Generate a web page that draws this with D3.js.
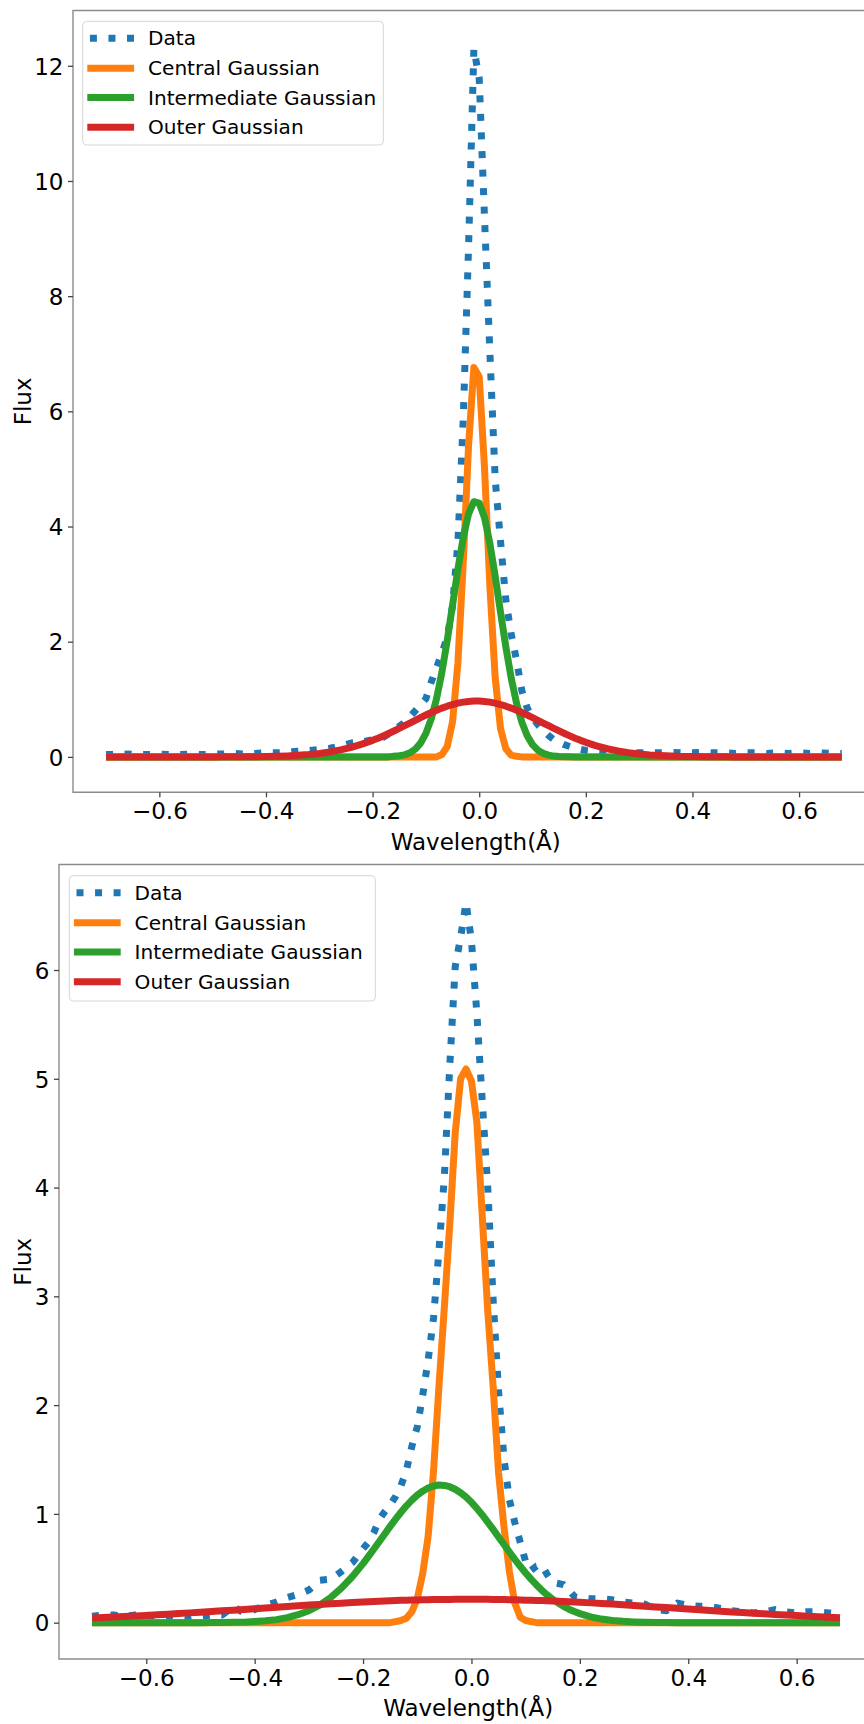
<!DOCTYPE html>
<html>
<head>
<meta charset="utf-8">
<script src="https://cdn.jsdelivr.net/npm/d3@7"></script>
<style>
  html, body { margin: 0; padding: 0; background: #ffffff; overflow: hidden; }
  svg { display: block; }
</style>
</head>
<body>
<svg id="chart" width="864" height="1724"></svg>
<script>
// Wavelength grid (Å), shared by both panels: 0.02 steps in the wings, 0.01 steps in the core.
const wavelength = [
  -0.70, -0.68, -0.66, -0.64, -0.62, -0.60, -0.58, -0.56, -0.54, -0.52, -0.50, -0.48, -0.46,
  -0.44, -0.42, -0.40, -0.38, -0.36, -0.34, -0.32, -0.30, -0.28, -0.26, -0.24, -0.22,
  -0.20, -0.19, -0.18, -0.17, -0.16, -0.15, -0.14, -0.13, -0.12, -0.11, -0.10, -0.09, -0.08, -0.07,
  -0.06, -0.05, -0.04, -0.03, -0.02, -0.01, 0.00, 0.01, 0.02, 0.03, 0.04, 0.05, 0.06, 0.07,
  0.08, 0.09, 0.10, 0.11, 0.12, 0.13, 0.14, 0.15, 0.16, 0.17, 0.18, 0.19, 0.20,
  0.22, 0.24, 0.26, 0.28, 0.30, 0.32, 0.34, 0.36, 0.38, 0.40, 0.42, 0.44, 0.46, 0.48, 0.50,
  0.52, 0.54, 0.56, 0.58, 0.60, 0.62, 0.64, 0.66, 0.68
];

// Upper panel
const topData = [
  0.04, 0.04, 0.05, 0.04, 0.04, 0.05, 0.04, 0.04, 0.05, 0.04, 0.05, 0.05, 0.06,
  0.05, 0.06, 0.07, 0.07, 0.08, 0.10, 0.11, 0.13, 0.15, 0.19, 0.24, 0.26,
  0.30, 0.32, 0.34, 0.40, 0.46, 0.53, 0.60, 0.70, 0.80, 0.90, 1.01, 1.30, 1.55, 1.80,
  2.08, 2.62, 3.72, 5.85, 8.85, 12.30, 11.78, 9.35, 7.03, 4.82, 3.74, 2.72, 2.13, 1.68,
  1.15, 0.85, 0.68, 0.56, 0.46, 0.37, 0.30, 0.25, 0.21, 0.18, 0.15, 0.13, 0.11,
  0.09, 0.08, 0.08, 0.07, 0.07, 0.07, 0.07, 0.08, 0.07, 0.07, 0.08, 0.07, 0.07, 0.06, 0.07,
  0.07, 0.06, 0.07, 0.06, 0.07, 0.06, 0.07, 0.06, 0.06
];
const topCentral = [
  0, 0, 0, 0, 0, 0, 0, 0, 0, 0, 0, 0, 0,
  0, 0, 0, 0, 0, 0, 0, 0, 0, 0, 0, 0,
  0, 0, 0, 0, 0, 0, 0, 0, 0, 0, 0, 0, 0, 0.04,
  0.18, 0.61, 1.63, 3.36, 5.40, 6.76, 6.60, 5.01, 2.96, 1.37, 0.49, 0.14, 0.03, 0.01,
  0, 0, 0, 0, 0, 0, 0, 0, 0, 0, 0, 0, 0,
  0, 0, 0, 0, 0, 0, 0, 0, 0, 0, 0, 0, 0, 0, 0,
  0, 0, 0, 0, 0, 0, 0, 0, 0
];
const topIntermediate = [
  0, 0, 0, 0, 0, 0, 0, 0, 0, 0, 0, 0, 0,
  0, 0, 0, 0, 0, 0, 0, 0, 0, 0, 0, 0,
  0, 0, 0, 0, 0.01, 0.02, 0.035, 0.07, 0.133, 0.239, 0.408, 0.660, 1.012, 1.470,
  2.023, 2.637, 3.256, 3.808, 4.220, 4.431, 4.407, 4.152, 3.706, 3.135, 2.511, 1.906, 1.370, 0.933,
  0.602, 0.368, 0.213, 0.117, 0.061, 0.030, 0.014, 0.006, 0.002, 0.001, 0, 0, 0,
  0, 0, 0, 0, 0, 0, 0, 0, 0, 0, 0, 0, 0, 0, 0,
  0, 0, 0, 0, 0, 0, 0, 0, 0
];
const topOuter = [
  0, 0, 0, 0, 0, 0, 0, 0, 0, 0, 0, 0.001, 0.001,
  0.002, 0.004, 0.007, 0.011, 0.017, 0.027, 0.041, 0.060, 0.086, 0.121, 0.166, 0.221,
  0.287, 0.324, 0.364, 0.406, 0.450, 0.495, 0.541, 0.588, 0.635, 0.682, 0.727, 0.770, 0.810, 0.847,
  0.880, 0.909, 0.933, 0.951, 0.963, 0.969, 0.969, 0.963, 0.951, 0.933, 0.909, 0.880, 0.847, 0.810,
  0.770, 0.727, 0.682, 0.635, 0.588, 0.541, 0.495, 0.450, 0.406, 0.364, 0.324, 0.287, 0.253,
  0.192, 0.142, 0.103, 0.072, 0.049, 0.033, 0.022, 0.014, 0.008, 0.005, 0.003, 0.002, 0.001, 0, 0,
  0, 0, 0, 0, 0, 0, 0, 0, 0
];

// Lower panel
const bottomData = [
  0.06, 0.07, 0.07, 0.06, 0.07, 0.07, 0.06, 0.06, 0.05, 0.04, 0.06, 0.07, 0.07,
  0.15, 0.09, 0.12, 0.16, 0.19, 0.23, 0.26, 0.30, 0.39, 0.40, 0.47, 0.55,
  0.68, 0.74, 0.83, 0.95, 1.02, 1.08, 1.16, 1.26, 1.40, 1.62, 1.80, 2.09, 2.41, 2.80,
  3.42, 4.10, 5.12, 6.03, 6.30, 6.62, 6.27, 5.60, 4.79, 4.01, 2.97, 2.13, 1.51, 1.13,
  0.92, 0.74, 0.56, 0.48, 0.52, 0.53, 0.44, 0.37, 0.36, 0.35, 0.30, 0.24, 0.23,
  0.22, 0.22, 0.21, 0.19, 0.18, 0.17, 0.12, 0.11, 0.18, 0.16, 0.15, 0.15, 0.13, 0.11, 0.10,
  0.09, 0.10, 0.12, 0.10, 0.09, 0.10, 0.10, 0.09, 0.08
];
const bottomCentral = [
  0, 0, 0, 0, 0, 0, 0, 0, 0, 0, 0, 0, 0,
  0, 0, 0, 0, 0, 0, 0, 0, 0, 0, 0, 0,
  0, 0, 0, 0, 0, 0, 0.01, 0.02, 0.04, 0.10, 0.22, 0.45, 0.79, 1.39,
  2.17, 2.90, 3.66, 4.50, 5.00, 5.09, 4.98, 4.60, 3.73, 2.87, 2.17, 1.38, 0.88, 0.47,
  0.18, 0.05, 0.02, 0.01, 0, 0, 0, 0, 0, 0, 0, 0, 0,
  0, 0, 0, 0, 0, 0, 0, 0, 0, 0, 0, 0, 0, 0, 0,
  0, 0, 0, 0, 0, 0, 0, 0, 0
];
const bottomIntermediate = [
  0, 0, 0, 0, 0, 0, 0, 0, 0, 0, 0, 0.001, 0.002,
  0.003, 0.005, 0.010, 0.017, 0.028, 0.046, 0.073, 0.110, 0.162, 0.230, 0.317, 0.422,
  0.543, 0.609, 0.677, 0.746, 0.816, 0.885, 0.952, 1.015, 1.074, 1.126, 1.172, 1.209, 1.238, 1.256,
  1.265, 1.262, 1.250, 1.227, 1.195, 1.155, 1.106, 1.051, 0.990, 0.925, 0.858, 0.788, 0.719, 0.650,
  0.582, 0.518, 0.457, 0.400, 0.347, 0.298, 0.254, 0.215, 0.181, 0.150, 0.124, 0.102, 0.083,
  0.053, 0.033, 0.020, 0.012, 0.007, 0.004, 0.002, 0.001, 0, 0, 0, 0, 0, 0, 0,
  0, 0, 0, 0, 0, 0, 0, 0, 0
];
const bottomOuter = [
  0.044, 0.048, 0.052, 0.057, 0.062, 0.067, 0.073, 0.078, 0.084, 0.090, 0.096, 0.102, 0.109,
  0.115, 0.122, 0.129, 0.135, 0.142, 0.149, 0.155, 0.162, 0.168, 0.174, 0.179, 0.185,
  0.190, 0.192, 0.194, 0.197, 0.199, 0.201, 0.203, 0.205, 0.206, 0.208, 0.209, 0.210, 0.211, 0.212,
  0.213, 0.214, 0.214, 0.215, 0.215, 0.215, 0.215, 0.215, 0.215, 0.215, 0.214, 0.213, 0.212, 0.211,
  0.210, 0.209, 0.207, 0.206, 0.204, 0.203, 0.201, 0.199, 0.197, 0.195, 0.192, 0.190, 0.187,
  0.182, 0.176, 0.171, 0.165, 0.158, 0.152, 0.145, 0.139, 0.132, 0.125, 0.119, 0.112, 0.106, 0.099, 0.093,
  0.087, 0.081, 0.075, 0.070, 0.065, 0.060, 0.055, 0.050, 0.046
];

const seriesNames = ["Data", "Central Gaussian", "Intermediate Gaussian", "Outer Gaussian"];
const seriesColors = ["#1f77b4", "#ff7f0e", "#2ca02c", "#d62728"];
const xTickValues = [-0.6, -0.4, -0.2, 0.0, 0.2, 0.4, 0.6];
const topYTickValues = [0, 2, 4, 6, 8, 10, 12];
const bottomYTickValues = [0, 1, 2, 3, 4, 5, 6];
const xLabel = "Wavelength(Å)";
const yLabel = "Flux";

const FONT = "'DejaVu Sans', 'Liberation Sans', sans-serif";
const LINE_W = 7;
const DOT_DASH = "7,11.55";
const SPINE = "#8c8c8c";
const TICK = "#444444";

const panels = [
  {
    series: [topData, topCentral, topIntermediate, topOuter],
    xDomain: [-0.762, 0.749], yDomain: [-0.615, 12.96],
    left: 73, right: 878.5, top: 10.5, bottom: 792.3,
    yTicks: topYTickValues,
    legend: { x: 82.7, y: 21.3, w: 300.6, h: 123.7 }
  },
  {
    series: [bottomData, bottomCentral, bottomIntermediate, bottomOuter],
    xDomain: [-0.761, 0.749], yDomain: [-0.334, 6.97],
    left: 59, right: 877.4, top: 864.5, bottom: 1659,
    yTicks: bottomYTickValues,
    legend: { x: 69.3, y: 875.7, w: 306, h: 125.3 }
  }
];

const svg = d3.select("#chart");
const fmt = v => d3.format(".1f")(v).replace("-", "\u2212");

panels.forEach(p => {
  const x = d3.scaleLinear().domain(p.xDomain).range([p.left, p.right]);
  const y = d3.scaleLinear().domain(p.yDomain).range([p.bottom, p.top]);
  const g = svg.append("g");

  // Curves: data first, fitted components on top
  p.series.forEach((vals, i) => {
    const pts = wavelength.map((w, k) => [w, vals[k]]);
    const line = d3.line().x(d => x(d[0])).y(d => y(d[1]));
    const path = g.append("path")
      .datum(pts)
      .attr("d", line)
      .attr("fill", "none")
      .attr("stroke", seriesColors[i])
      .attr("stroke-width", LINE_W)
      .attr("stroke-linejoin", "round")
      .attr("stroke-linecap", "butt");
    if (i === 0) path.attr("stroke-dasharray", DOT_DASH);
  });

  // Spines: left, bottom and top (right edge lies beyond the canvas)
  g.append("path")
    .attr("d", `M${p.right},${p.top}H${p.left}V${p.bottom}H${p.right}`)
    .attr("fill", "none")
    .attr("stroke", SPINE)
    .attr("stroke-width", 1.4);

  // Axes
  const xAxis = d3.axisBottom(x).tickValues(xTickValues).tickFormat(fmt)
    .tickSize(5).tickPadding(5.2);
  const gx = g.append("g").attr("transform", `translate(0,${p.bottom})`).call(xAxis);
  const yAxis = d3.axisLeft(y).tickValues(p.yTicks).tickFormat(d3.format("d"))
    .tickSize(5).tickPadding(4.5);
  const gy = g.append("g").attr("transform", `translate(${p.left},0)`).call(yAxis);
  [gx, gy].forEach(ax => {
    ax.select(".domain").remove();
    ax.selectAll(".tick line").attr("stroke", TICK).attr("stroke-width", 1.3);
    ax.selectAll(".tick text")
      .attr("fill", "#000")
      .style("font-family", FONT)
      .style("font-size", "23px");
  });
  gy.selectAll(".tick text").attr("dy", "0.36em");

  // Axis titles
  g.append("text")
    .attr("x", (p.left + p.right) / 2)
    .attr("y", p.bottom + 57.3)
    .attr("text-anchor", "middle")
    .style("font-family", FONT).style("font-size", "23px")
    .attr("fill", "#000")
    .text(xLabel);
  g.append("text")
    .attr("transform", `translate(31.4,${(p.top + p.bottom) / 2}) rotate(-90)`)
    .attr("text-anchor", "middle")
    .style("font-family", FONT).style("font-size", "23px")
    .attr("fill", "#000")
    .text(yLabel);

  // Legend
  const L = p.legend;
  const lg = g.append("g").attr("transform", `translate(${L.x},${L.y})`);
  lg.append("rect")
    .attr("x", 0).attr("y", 0).attr("width", L.w).attr("height", L.h)
    .attr("rx", 4).attr("ry", 4)
    .attr("fill", "#ffffff").attr("fill-opacity", 0.8)
    .attr("stroke", "#d6d6d6").attr("stroke-width", 1);
  const rowY = [17, 47, 76.3, 106];
  seriesNames.forEach((name, i) => {
    const ln = lg.append("line")
      .attr("x1", 4.6).attr("x2", 51.4)
      .attr("y1", rowY[i]).attr("y2", rowY[i])
      .attr("stroke", seriesColors[i])
      .attr("stroke-width", LINE_W)
      .attr("stroke-linecap", "butt");
    if (i === 0) ln.attr("stroke-dasharray", DOT_DASH).attr("stroke-dashoffset", -2.6);
    lg.append("text")
      .attr("x", 65.3).attr("y", rowY[i] + 7.2)
      .style("font-family", FONT).style("font-size", "20.1px")
      .attr("fill", "#000")
      .text(name);
  });
});
</script>
</body>
</html>
